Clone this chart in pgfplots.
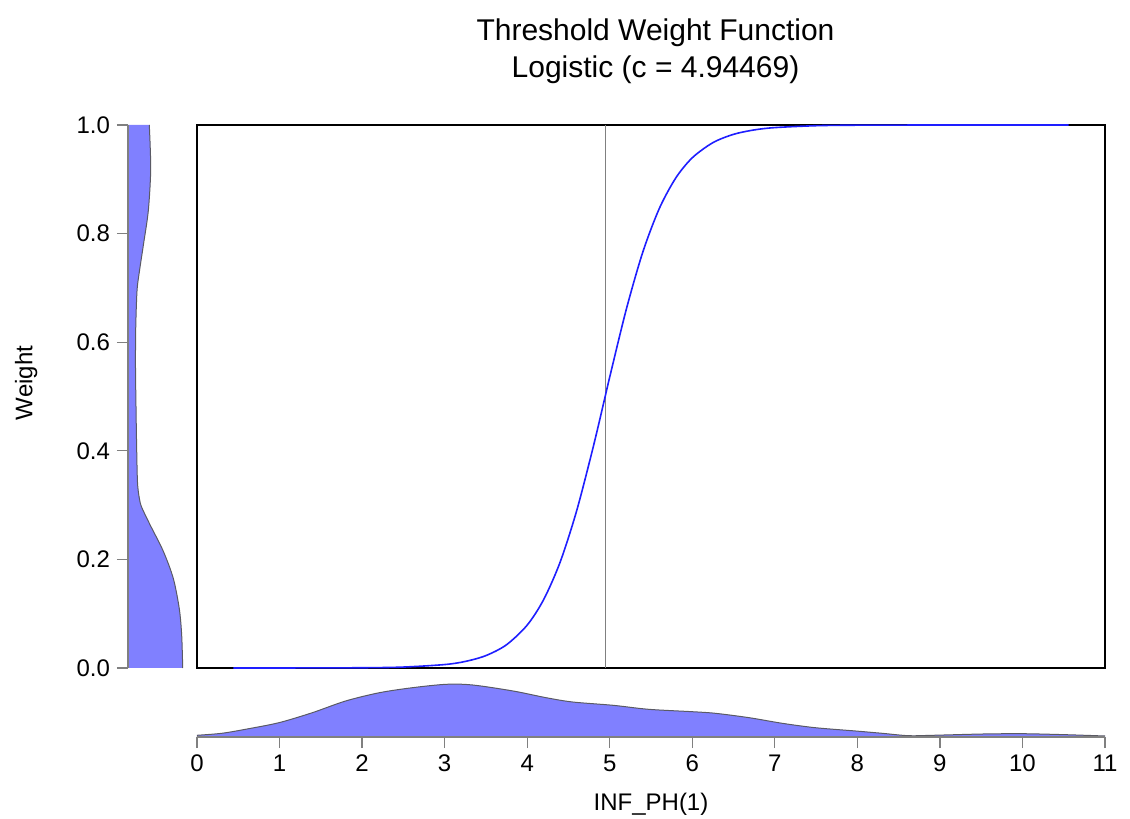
\documentclass[border=0pt]{standalone}
\usepackage{fontspec}
\setmainfont{Liberation Sans}
\usepackage{pgfplots}
\pgfplotsset{compat=1.18}
\definecolor{densfill}{RGB}{128,128,255}
\definecolor{densedge}{RGB}{90,90,100}
\definecolor{axgray}{RGB}{128,128,128}
\definecolor{curveblue}{RGB}{30,30,255}
\begin{document}
\begin{tikzpicture}
\useasboundingbox (-98.5pt,-75.5pt) rectangle (466.5pt,334pt);
% ---------- main axis ----------
\begin{axis}[
  name=main, at={(0pt,0pt)}, anchor=south west,
  scale only axis, width=454pt, height=271.5pt,
  xmin=0, xmax=11, ymin=0, ymax=1,
  ticks=none,
  axis line style={black, line width=0.8pt},
  title={Threshold Weight Function\\Logistic (c = 4.94469)},
  title style={at={(axis description cs:0.5,1)}, anchor=south, yshift=11pt, xshift=2.25pt,
    align=center, font=\fontsize{15}{18.8}\selectfont},
]
\addplot[axgray, line width=0.5pt] coordinates {(4.94469,0) (4.94469,1)};
\addplot[curveblue, line width=0.8pt, smooth] coordinates {
(0.44,0.00001) (1.0,0.00004) (2.0,0.00047) (2.5,0.00173) (3.0,0.00633)
(3.25,0.01206) (3.5,0.02285) (3.75,0.04286) (4.0,0.0790) (4.2,0.1261)
(4.4,0.1953) (4.6,0.2899) (4.8,0.4071) (4.94469,0.5) (5.0,0.5359)
(5.2,0.6601) (5.4,0.7656) (5.6,0.8460) (5.8,0.9024) (6.0,0.9396)
(6.25,0.9675) (6.5,0.9828) (6.75,0.9909) (7.0,0.9952) (7.5,0.9987)
(8.0,0.99965) (9.0,0.99997) (10.56,1.0)
};
\end{axis}
% ---------- left density ----------
\begin{axis}[
  at={(-34.5pt,0pt)}, anchor=south west,
  scale only axis, width=31pt, height=271.5pt,
  xmin=0, xmax=62, ymin=0, ymax=1,
  axis x line=none, axis y line*=left,
  axis line style={axgray, line width=0.8pt},
  ytick={0,0.2,0.4,0.6,0.8,1.0},
  yticklabels={0.0,0.2,0.4,0.6,0.8,1.0},
  tick align=outside, major tick length=5.5pt,
  tick style={axgray, line width=0.6pt},
  ticklabel style={font=\fontsize{12}{14}\selectfont},
  ylabel={Weight},
  ylabel style={at={(axis description cs:-1.5435,0.525)}, anchor=base, font=\fontsize{12}{14}\selectfont},
  clip=false,
]
\addplot[fill=densfill, draw=none, smooth] coordinates {
(54.7,0) (53.7,0.06) (51.3,0.109) (45.3,0.165) (35.3,0.215) (22,0.264)
(13.7,0.296) (11.3,0.313) (9.5,0.342) (8.6,0.412) (8.0,0.482) (7.5,0.553)
(7.7,0.623) (9.0,0.694) (11.3,0.729) (15.3,0.778) (20.3,0.842) (22.7,0.919) (21.3,1)
} -- (axis cs:0,1) -- (axis cs:0,0) -- cycle;
\addplot[densedge, line width=0.5pt, smooth] coordinates {
(54.7,0) (53.7,0.06) (51.3,0.109) (45.3,0.165) (35.3,0.215) (22,0.264)
(13.7,0.296) (11.3,0.313) (9.5,0.342) (8.6,0.412) (8.0,0.482) (7.5,0.553)
(7.7,0.623) (9.0,0.694) (11.3,0.729) (15.3,0.778) (20.3,0.842) (22.7,0.919) (21.3,1)
};
\draw[axgray, line width=0.8pt] (axis cs:0,0) -- (axis cs:0,1);
\end{axis}
% ---------- bottom density ----------
\begin{axis}[
  at={(0pt,-34.5pt)}, anchor=south west,
  scale only axis, width=454pt, height=27pt,
  xmin=0, xmax=11, ymin=0, ymax=54,
  axis y line=none, axis x line*=bottom,
  axis line style={axgray, line width=0.8pt},
  xtick={0,1,2,3,4,5,6,7,8,9,10,11},
  tick align=outside, major tick length=5.5pt,
  tick style={axgray, line width=0.6pt},
  ticklabel style={font=\fontsize{12}{14}\selectfont},
  /pgf/number format/assume math mode=true,
  xlabel={INF\_PH(1)},
  xlabel style={at={(axis description cs:0.5,0)}, anchor=base, yshift=-36.8pt, font=\fontsize{12}{14}\selectfont},
  clip=false,
]
\addplot[fill=densfill, draw=none, smooth] coordinates {
(0,1.7) (0.3,3.7) (0.587,7.7) (0.992,14.3) (1.397,24.3) (1.80,36) (2.21,44.3)
(2.61,49.3) (3.02,52.7) (3.34,52) (3.83,46) (4.23,39.3) (4.55,35) (5.04,31.7)
(5.47,27.7) (6.0,25.3) (6.28,23.7) (6.69,19.3) (7.09,13.7) (7.49,9.3) (7.98,6)
(8.30,3.7) (8.62,1.3) (8.91,1.7) (9.52,3) (10.0,3.3) (10.53,2.3) (11,1)
} \closedcycle;
\addplot[densedge, line width=0.5pt, smooth] coordinates {
(0,1.7) (0.3,3.7) (0.587,7.7) (0.992,14.3) (1.397,24.3) (1.80,36) (2.21,44.3)
(2.61,49.3) (3.02,52.7) (3.34,52) (3.83,46) (4.23,39.3) (4.55,35) (5.04,31.7)
(5.47,27.7) (6.0,25.3) (6.28,23.7) (6.69,19.3) (7.09,13.7) (7.49,9.3) (7.98,6)
(8.30,3.7) (8.62,1.3) (8.91,1.7) (9.52,3) (10.0,3.3) (10.53,2.3) (11,1)
};
\draw[axgray, line width=0.8pt] (axis cs:0,0) -- (axis cs:11,0);
\end{axis}
\end{tikzpicture}
\end{document}
